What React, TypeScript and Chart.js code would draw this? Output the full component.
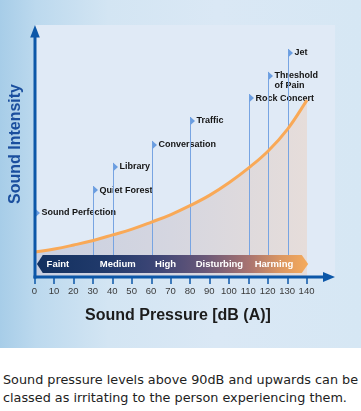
import React, { useEffect, useRef } from "react";
import { Chart, registerables } from "chart.js";

Chart.register(...registerables);

// ---- data ----
const curveDb = [0, 10, 20, 30, 40, 50, 60, 70, 80, 90, 100, 110, 120, 130, 140];
const curveIntensity = [9.9, 11.1, 12.7, 14.5, 16.7, 19.0, 21.8, 24.8, 28.4, 32.5, 37.5, 43.3, 50.0, 58.7, 70.2];

const tickValues = [0, 10, 20, 30, 40, 50, 60, 70, 80, 90, 100, 110, 120, 130, 140];
const tickLabels = ["0", "10", "20", "30", "40", "50", "60", "70", "80", "90", "100", "110", "120", "130", "140"];

const sourceLabels = [
  ["Sound Perfection"],
  ["Quiet Forest"],
  ["Library"],
  ["Conversation"],
  ["Traffic"],
  ["Rock Concert"],
  ["Threshold", "of Pain"],
  ["Jet"],
];
const sourceDb = [0, 30, 40, 60, 80, 110, 120, 130];
const sourceLevel = [25.4, 34.5, 43.7, 52.4, 61.9, 71.0, 79.8, 88.9];

const bandLabels = ["Faint", "Medium", "High", "Disturbing", "Harming"];
const bandCenters = [11.8, 42.6, 67.2, 94.9, 123];

const xTitle = "Sound Pressure [dB (A)]";
const yTitle = "Sound Intensity";
const caption1 = "Sound pressure levels above 90dB and upwards can be";
const caption2 = "classed as irritating to the person experiencing them.";

const FONT = "'Liberation Sans', Arial, sans-serif";
const AXIS = "#0c57a8";

const decor = {
  id: "decor",
  beforeDraw(chart: any) {
    const { ctx, chartArea: a } = chart;
    ctx.save();
    ctx.fillStyle = "#e0eaf6";
    ctx.fillRect(a.left, a.top, a.right - a.left, a.bottom - a.top);
    ctx.restore();
  },
  beforeDatasetDraw(chart: any, args: any) {
    if (args.index !== 0) return;
    const { ctx } = chart;
    const xs = chart.scales.x;
    const ys = chart.scales.y;
    const bandTop = ys.getPixelForValue(8.7);
    ctx.save();
    sourceDb.forEach((db, i) => {
      const px = Math.round(xs.getPixelForValue(db)) + 0.5;
      const py = ys.getPixelForValue(sourceLevel[i]);
      if (db > 0) {
        ctx.strokeStyle = "#77a4e2";
        ctx.lineWidth = 1;
        ctx.beginPath();
        ctx.moveTo(px, py - 4);
        ctx.lineTo(px, bandTop);
        ctx.stroke();
      }
      ctx.fillStyle = "#6a9de0";
      ctx.beginPath();
      ctx.moveTo(px, py - 4);
      ctx.lineTo(px + 4.5, py);
      ctx.lineTo(px, py + 4);
      ctx.closePath();
      ctx.fill();
      ctx.fillStyle = "#141414";
      ctx.font = "bold 9px " + FONT;
      ctx.textAlign = "left";
      ctx.textBaseline = "middle";
      sourceLabels[i].forEach((t, j) => {
        ctx.fillText(t, px + 6, py + j * 10);
      });
    });
    ctx.restore();
  },
  afterDatasetsDraw(chart: any) {
    const { ctx, chartArea: a } = chart;
    const xs = chart.scales.x;
    const ys = chart.scales.y;
    ctx.save();

    // band
    const bTop = ys.getPixelForValue(8.7);
    const bBot = ys.getPixelForValue(1.6);
    const bMid = (bTop + bBot) / 2;
    const lTip = xs.getPixelForValue(1);
    const lBody = xs.getPixelForValue(4);
    const rBody = xs.getPixelForValue(137.3);
    const rTip = xs.getPixelForValue(140.6);
    const g = ctx.createLinearGradient(lTip, 0, rTip, 0);
    g.addColorStop(0, "#12305f");
    g.addColorStop(0.25, "#213a6b");
    g.addColorStop(0.45, "#3f4676");
    g.addColorStop(0.62, "#6a5878");
    g.addColorStop(0.78, "#a87370");
    g.addColorStop(0.9, "#dc9761");
    g.addColorStop(1, "#f5ab5c");
    ctx.fillStyle = g;
    ctx.beginPath();
    ctx.moveTo(lTip, bMid);
    ctx.lineTo(lBody, bTop);
    ctx.lineTo(rBody, bTop);
    ctx.lineTo(rTip, bMid);
    ctx.lineTo(rBody, bBot);
    ctx.lineTo(lBody, bBot);
    ctx.closePath();
    ctx.fill();

    ctx.fillStyle = "#ffffff";
    ctx.font = "bold 9.5px " + FONT;
    ctx.textAlign = "center";
    ctx.textBaseline = "middle";
    bandLabels.forEach((t, i) => {
      ctx.fillText(t, xs.getPixelForValue(bandCenters[i]), bMid + 0.5);
    });

    // axes
    ctx.strokeStyle = AXIS;
    ctx.fillStyle = AXIS;
    ctx.lineWidth = 3;
    const x0 = a.left;
    const y0 = a.bottom;
    ctx.beginPath();
    ctx.moveTo(x0, y0 + 1.5);
    ctx.lineTo(x0, a.top + 10);
    ctx.stroke();
    ctx.beginPath();
    ctx.moveTo(x0, a.top);
    ctx.lineTo(x0 - 4.8, a.top + 12.5);
    ctx.lineTo(x0 + 4.8, a.top + 12.5);
    ctx.closePath();
    ctx.fill();

    ctx.beginPath();
    ctx.moveTo(x0 - 1.5, y0);
    ctx.lineTo(a.right - 10, y0);
    ctx.stroke();
    ctx.beginPath();
    ctx.moveTo(a.right, y0);
    ctx.lineTo(a.right - 12, y0 - 5);
    ctx.lineTo(a.right - 12, y0 + 5);
    ctx.closePath();
    ctx.fill();

    // ticks
    ctx.lineWidth = 1.5;
    tickValues.forEach((v) => {
      const px = Math.round(xs.getPixelForValue(v));
      ctx.beginPath();
      ctx.moveTo(px, y0);
      ctx.lineTo(px, y0 + 7);
      ctx.stroke();
    });
    ctx.fillStyle = "#3a3a3a";
    ctx.font = "9.5px " + FONT;
    ctx.textAlign = "center";
    ctx.textBaseline = "middle";
    tickValues.forEach((v, i) => {
      ctx.fillText(tickLabels[i], xs.getPixelForValue(v) - 0.5, y0 + 14.5);
    });

    // titles
    ctx.fillStyle = "#1c1c1c";
    ctx.font = "bold 16px " + FONT;
    ctx.fillText(xTitle, 178, y0 + 39);

    ctx.translate(16, 144);
    ctx.rotate(-Math.PI / 2);
    ctx.fillStyle = "#1b4f9e";
    ctx.fillText(yTitle, 0, 0);
    ctx.restore();
  },
};

export default function App() {
  const ref = useRef<HTMLCanvasElement | null>(null);

  useEffect(() => {
    if (!ref.current) return;
    const points = curveDb.map((d, i) => ({ x: d, y: curveIntensity[i] }));
    const chart = new Chart(ref.current, {
      type: "line",
      data: {
        datasets: [
          {
            label: "curve",
            data: points,
            borderColor: "#f9a957",
            borderWidth: 3,
            pointRadius: 0,
            tension: 0.4,
            fill: false,
          },
          {
            label: "area",
            data: points,
            borderWidth: 0,
            borderColor: "rgba(0,0,0,0)",
            pointRadius: 0,
            tension: 0.4,
            fill: "origin",
            backgroundColor: (c: any) => {
              const ch = c.chart;
              const a = ch.chartArea;
              if (!a) return "#d5d6de";
              const g = ch.ctx.createLinearGradient(a.left, 0, ch.scales.x.getPixelForValue(140), 0);
              g.addColorStop(0, "#c9d0e1");
              g.addColorStop(0.5, "#d5d6e0");
              g.addColorStop(1, "#e6ddda");
              return g;
            },
          },
        ],
      },
      options: {
        animation: false,
        responsive: false,
        devicePixelRatio: 1,
        layout: { padding: { left: 35, top: 25, right: 26, bottom: 71 } },
        plugins: { legend: { display: false }, tooltip: { enabled: false } },
        scales: {
          x: { type: "linear", min: 0, max: 154.4, display: false },
          y: { type: "linear", min: 0, max: 100, display: false },
        },
      },
      plugins: [decor],
    } as any);
    return () => chart.destroy();
  }, []);

  return (
    <div style={{ position: "absolute", left: 0, top: 0, width: 361, height: 411, background: "#ffffff", overflow: "hidden" }}>
      <div
        style={{
          position: "absolute",
          left: 0,
          top: 0,
          width: 361,
          height: 348,
          background:
            "linear-gradient(to right, #a7cde8 0%, #bcd9ee 10%, #d3e5f3 30%, #dae8f5 60%, #d6e7f4 100%)",
        }}
      />
      <canvas ref={ref} width={361} height={348} style={{ position: "absolute", left: 0, top: 0, width: 361, height: 348 }} />
      <div
        style={{
          position: "absolute",
          left: 3,
          top: 371,
          fontFamily: "'DejaVu Sans', Verdana, sans-serif",
          fontSize: 12.8,
          lineHeight: "18px",
          color: "#222222",
          whiteSpace: "nowrap",
        }}
      >
        {caption1}
        <br />
        {caption2}
      </div>
    </div>
  );
}
